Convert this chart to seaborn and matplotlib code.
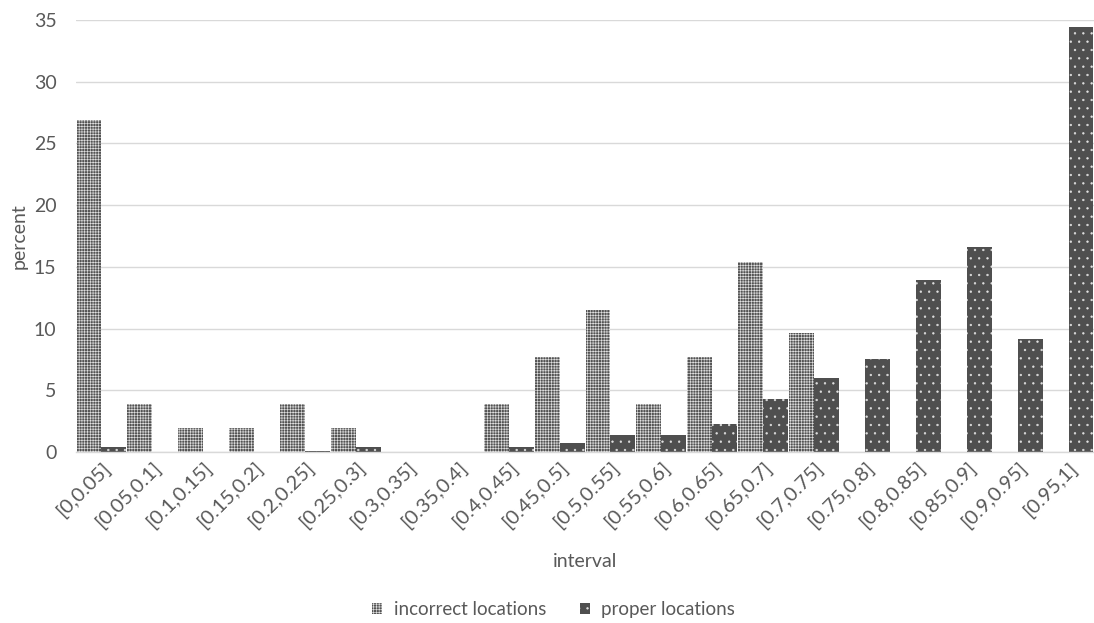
import numpy as np
import pandas as pd
import matplotlib
matplotlib.use("Agg")
import matplotlib.pyplot as plt
import seaborn as sns

intervals = ["[0,0.05]", "[0.05,0.1]", "[0.1,0.15]", "[0.15,0.2]", "[0.2,0.25]",
             "[0.25,0.3]", "[0.3,0.35]", "[0.35,0.4]", "[0.4,0.45]", "[0.45,0.5]",
             "[0.5,0.55]", "[0.55,0.6]", "[0.6,0.65]", "[0.65,0.7]", "[0.7,0.75]",
             "[0.75,0.8]", "[0.8,0.85]", "[0.85,0.9]", "[0.9,0.95]", "[0.95,1]"]
incorrect = [26.92, 3.85, 1.92, 1.92, 3.85, 1.92, 0, 0, 3.85, 7.69,
             11.54, 3.85, 7.69, 15.38, 9.62, 0, 0, 0, 0, 0]
proper = [0.4, 0, 0, 0, 0.1, 0.4, 0, 0, 0.4, 0.75,
          1.35, 1.35, 2.27, 4.28, 6.0, 7.57, 13.96, 16.6, 9.13, 34.46]
series = ["incorrect locations", "proper locations"]

df = pd.DataFrame({
    "interval": intervals * 2,
    "percent": incorrect + proper,
    "series": [series[0]] * len(intervals) + [series[1]] * len(intervals),
})

sns.set_theme(style="white")
plt.rcParams["font.family"] = ["Lato", "DejaVu Sans"]
plt.rcParams["hatch.linewidth"] = 0.45

text_color = "#595959"
grid_color = "#d9d9d9"
fs = 14

fig = plt.figure(figsize=(10.94, 6.23), dpi=100)
ax = fig.add_axes([0.0695, 0.2745, 0.9305, 0.6935])

sns.barplot(data=df, x="interval", y="percent", hue="series",
            palette=["#535353", "#4f4f4f"], width=0.98, ax=ax,
            saturation=1, legend=False)

# fine checker for the first series, sparse dots for the second
hatches = ["++++++", ".."]
for cont, h in zip(ax.containers, hatches):
    for p in cont:
        p.set_hatch(h)
        p.set_edgecolor("#e0e0e0")
        p.set_linewidth(0)

ax.set_ylim(0, 35)
ax.set_xlim(-0.5, len(intervals) - 0.5)
ax.set_yticks(np.arange(0, 36, 5))
ax.yaxis.grid(True, color=grid_color, linewidth=1)
ax.set_axisbelow(True)
for s in ["top", "right", "left"]:
    ax.spines[s].set_visible(False)
ax.spines["bottom"].set_color(grid_color)
ax.spines["bottom"].set_linewidth(1)
ax.tick_params(axis="y", length=0, colors=text_color, labelsize=fs, pad=14)
ax.tick_params(axis="x", length=0, colors=text_color, labelsize=14.5, pad=5)
plt.setp(ax.get_xticklabels(), rotation=45, ha="right", rotation_mode="anchor")

ax.set_xlabel("interval", color=text_color, fontsize=fs, va="center")
ax.xaxis.set_label_coords(0.5, -0.2546)
ax.set_ylabel("percent", color=text_color, fontsize=fs, va="center")
ax.yaxis.set_label_coords(-0.056, 0.5)

handles = [cont[0] for cont in ax.containers]
fig.legend(handles, series, loc="center", bbox_to_anchor=(0.506, 0.021),
           ncol=2, frameon=False, fontsize=13.5, labelcolor=text_color,
           handlelength=0.55, handleheight=0.55, handletextpad=0.6,
           columnspacing=1.8)

fig.savefig("out.png", dpi=100)
